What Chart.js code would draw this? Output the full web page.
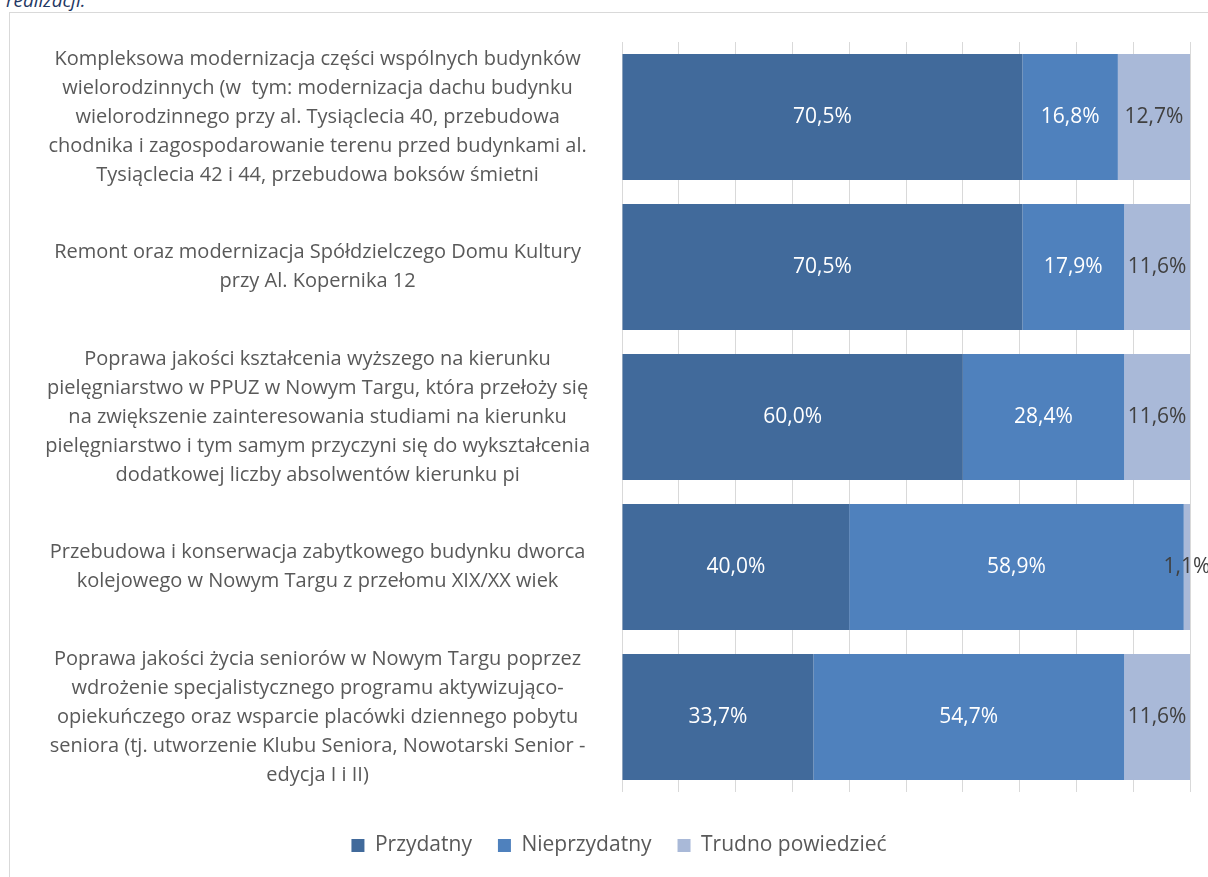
<!DOCTYPE html>
<html lang="pl">
<head>
<meta charset="utf-8">
<script src="https://cdn.jsdelivr.net/npm/chart.js@4/dist/chart.umd.min.js"></script>
<style>
  html, body { margin: 0; padding: 0; background: #fff; overflow: hidden; }
  body { width: 1208px; height: 877px; position: relative; }
  .above { position: absolute; left: 6px; top: -13px; font: italic 19px "Open Sans", sans-serif; color: #1F3864; }
  .frame { position: absolute; left: 9px; top: 12px; width: 1240px; height: 900px; border: 1px solid #D9D9D9; box-sizing: border-box; }
  .wrap { position: absolute; left: 0; top: 0; width: 1238px; height: 877px; }
</style>
</head>
<body>
<div class="above">realizacji.</div>
<div class="frame"></div>
<div class="wrap"><canvas id="chart"></canvas></div>
<script>
// ====================
// DATA
// ====================
const kategorie = [
  ['Kompleksowa modernizacja części wspólnych budynków',
   'wielorodzinnych (w  tym: modernizacja dachu budynku',
   'wielorodzinnego przy al. Tysiąclecia 40, przebudowa',
   'chodnika i zagospodarowanie terenu przed budynkami al.',
   'Tysiąclecia 42 i 44, przebudowa boksów śmietni'],
  ['Remont oraz modernizacja Spółdzielczego Domu Kultury',
   'przy Al. Kopernika 12'],
  ['Poprawa jakości kształcenia wyższego na kierunku',
   'pielęgniarstwo w PPUZ w Nowym Targu, która przełoży się',
   'na zwiększenie zainteresowania studiami na kierunku',
   'pielęgniarstwo i tym samym przyczyni się do wykształcenia',
   'dodatkowej liczby absolwentów kierunku pi'],
  ['Przebudowa i konserwacja zabytkowego budynku dworca',
   'kolejowego w Nowym Targu z przełomu XIX/XX wiek'],
  ['Poprawa jakości życia seniorów w Nowym Targu poprzez',
   'wdrożenie specjalistycznego programu aktywizująco-',
   'opiekuńczego oraz wsparcie placówki dziennego pobytu',
   'seniora (tj. utworzenie Klubu Seniora, Nowotarski Senior -',
   'edycja I i II)']
];

const przydatny     = [70.5, 70.5, 60.0, 40.0, 33.7];
const nieprzydatny  = [16.8, 17.9, 28.4, 58.9, 54.7];
const trudno        = [12.7, 11.6, 11.6, 1.1, 11.6];

const nazwySerii = ['Przydatny', 'Nieprzydatny', 'Trudno powiedzieć'];
const kolory = ['#416A9B', '#4F81BD', '#A9B9D8'];
const koloryEtykiet = ['#FFFFFF', '#FFFFFF', '#404040'];

const FONT = 'Open Sans';

// etykiety wartosci na slupkach
const etykietyPlugin = {
  id: 'etykiety',
  afterDatasetsDraw(chart) {
    const ctx = chart.ctx;
    ctx.save();
    ctx.font = '21px "' + FONT + '"';
    ctx.textAlign = 'center';
    ctx.textBaseline = 'middle';
    chart.data.datasets.forEach((ds, i) => {
      const meta = chart.getDatasetMeta(i);
      meta.data.forEach((bar, j) => {
        const { x, y, base } = bar.getProps(['x', 'y', 'base'], true);
        ctx.fillStyle = koloryEtykiet[i];
        ctx.fillText(ds.data[j].toFixed(1).replace('.', ',') + '%', (x + base) / 2, y);
      });
    });
    ctx.restore();
  }
};

// legenda wysrodkowana na calej ramce, nie tylko do prawego marginesu
const legendaPrzesun = {
  id: 'legendaPrzesun',
  afterLayout(chart) {
    chart.legend.left += 24;
    chart.legend.right += 24;
  }
};

new Chart(document.getElementById('chart'), {
  type: 'bar',
  data: {
    labels: kategorie,
    datasets: [przydatny, nieprzydatny, trudno].map((d, i) => ({
      label: nazwySerii[i],
      data: d,
      backgroundColor: kolory[i],
      borderWidth: 0,
      barPercentage: 1,
      categoryPercentage: 0.84
    }))
  },
  options: {
    indexAxis: 'y',
    responsive: true,
    maintainAspectRatio: false,
    animation: false,
    layout: { padding: { top: 42, right: 48, bottom: 11, left: 0 } },
    plugins: {
      tooltip: { enabled: false },
      legend: {
        position: 'bottom',
        labels: {
          boxWidth: 13,
          boxHeight: 13,
          padding: 26,
          color: '#595959',
          font: { family: FONT, size: 21 }
        }
      }
    },
    scales: {
      x: {
        stacked: true,
        min: 0,
        max: 100,
        ticks: { display: false, stepSize: 10 },
        grid: { color: '#D9D9D9', drawTicks: false },
        border: { display: false },
        afterFit(axis) { axis.height = 17; }
      },
      y: {
        stacked: true,
        grid: { display: false, drawTicks: false },
        border: { display: false },
        ticks: {
          crossAlign: 'center',
          padding: 32,
          color: '#595959',
          font: { family: FONT, size: 20, lineHeight: 1.45 }
        },
        afterFit(axis) {
          axis.width = 622;
          axis.paddingTop = 0;
          axis.paddingBottom = 0;
        }
      }
    }
  },
  plugins: [etykietyPlugin, legendaPrzesun]
});
</script>
</body>
</html>
